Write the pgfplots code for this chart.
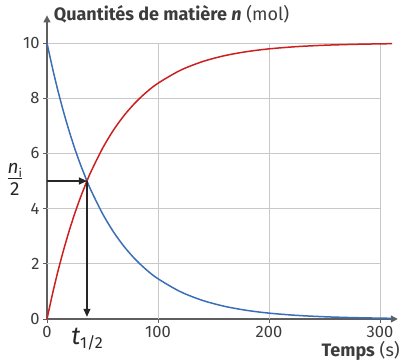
\documentclass[border=0pt]{standalone}
\usepackage{pgfplots}
\pgfplotsset{compat=1.18}
\usepackage{fontspec}
\setmainfont{Fira Sans}
\usetikzlibrary{arrows.meta}
\definecolor{cblue}{RGB}{58,110,182}
\definecolor{cred}{RGB}{204,32,32}
\definecolor{cgrid}{RGB}{200,200,200}
\definecolor{caxis}{RGB}{95,95,95}
\definecolor{ctext}{RGB}{60,60,60}
\begin{document}
\begin{tikzpicture}
\useasboundingbox (-47pt,-42pt) rectangle (355pt,319pt);
\begin{axis}[
  anchor=origin, at={(0pt,0pt)},
  x=1.11pt, y=27.6pt,
  xmin=0, xmax=316, ymin=0, ymax=11,
  axis lines=left,
  axis line style={caxis, line width=1.3pt, -{Triangle[length=7pt,width=7pt]}},
  clip=false,
  xtick={0,100,200,300}, ytick={0,2,4,6,8,10},
  tick style={caxis, line width=0.8pt},
  tick align=outside, major tick length=4pt,
  ticklabel style={font=\fontsize{16.5}{18}\selectfont, text=ctext},
  /pgf/number format/assume math mode=true,
]
\foreach \yy in {2,4,6,8,10} {\edef\tmp{\noexpand\draw[cgrid, line width=0.9pt] (axis cs:0,\yy) -- (axis cs:300,\yy);}\tmp}
\foreach \xx in {100,200,300} {\edef\tmp{\noexpand\draw[cgrid, line width=0.9pt] (axis cs:\xx,0) -- (axis cs:\xx,10);}\tmp}
\addplot[cblue, line width=1.5pt, smooth] coordinates {
(0,10) (5,9.082) (10,8.249) (15,7.492) (20,6.804) (25,6.179) (30,5.612) (36,5.0) (40,4.630) (50,3.819) (60,3.150) (70,2.598) (80,2.143) (90,1.768) (100,1.458) (120,0.992) (140,0.675) (160,0.459) (180,0.3125) (200,0.2126) (225,0.1314) (250,0.0812) (275,0.0502) (300,0.031) (311,0.025)
};
\addplot[cred, line width=1.5pt, smooth] coordinates {
(0,0) (5,0.918) (10,1.751) (15,2.508) (20,3.196) (25,3.821) (30,4.388) (36,5.0) (40,5.370) (50,6.181) (60,6.850) (70,7.402) (80,7.857) (90,8.232) (100,8.542) (120,9.008) (140,9.325) (160,9.541) (180,9.6875) (200,9.7874) (225,9.8686) (250,9.9188) (275,9.9498) (300,9.969) (311,9.975)
};
\draw[black!85, line width=1.2pt, -{Triangle[length=8pt,width=7pt]}] (axis cs:0,5) -- (axis cs:36,5);
\draw[black!85, line width=1.2pt, -{Triangle[length=8pt,width=7pt]}] (axis cs:36,5) -- (axis cs:36,0.08);
\node[anchor=base west, text=ctext, font=\fontsize{18}{20}\selectfont, inner sep=0pt] at (axis cs:6,10.82) {\textbf{Quantités de matière \textit{n}} (mol)};
\node[anchor=base east, text=ctext, font=\fontsize{18}{20}\selectfont, inner sep=0pt] at (axis cs:318,-1.37) {\textbf{Temps} (s)};
\node[text=black!85, anchor=base, font=\fontsize{25}{28}\selectfont, inner sep=0pt] at (axis cs:36,-0.92) {\textit{t}\raisebox{-0.3ex}{\fontsize{16}{17}\selectfont 1/2}};
\node[text=black!85, inner sep=1pt] at (axis cs:-29,5.02) {\fontsize{19}{21}\selectfont\begin{tabular}{@{}c@{}}\textit{n}\raisebox{-0.4ex}{\fontsize{12}{13}\selectfont i}\\[-2pt]\hline\rule{0pt}{18pt}2\end{tabular}};
\end{axis}
\end{tikzpicture}
\end{document}
